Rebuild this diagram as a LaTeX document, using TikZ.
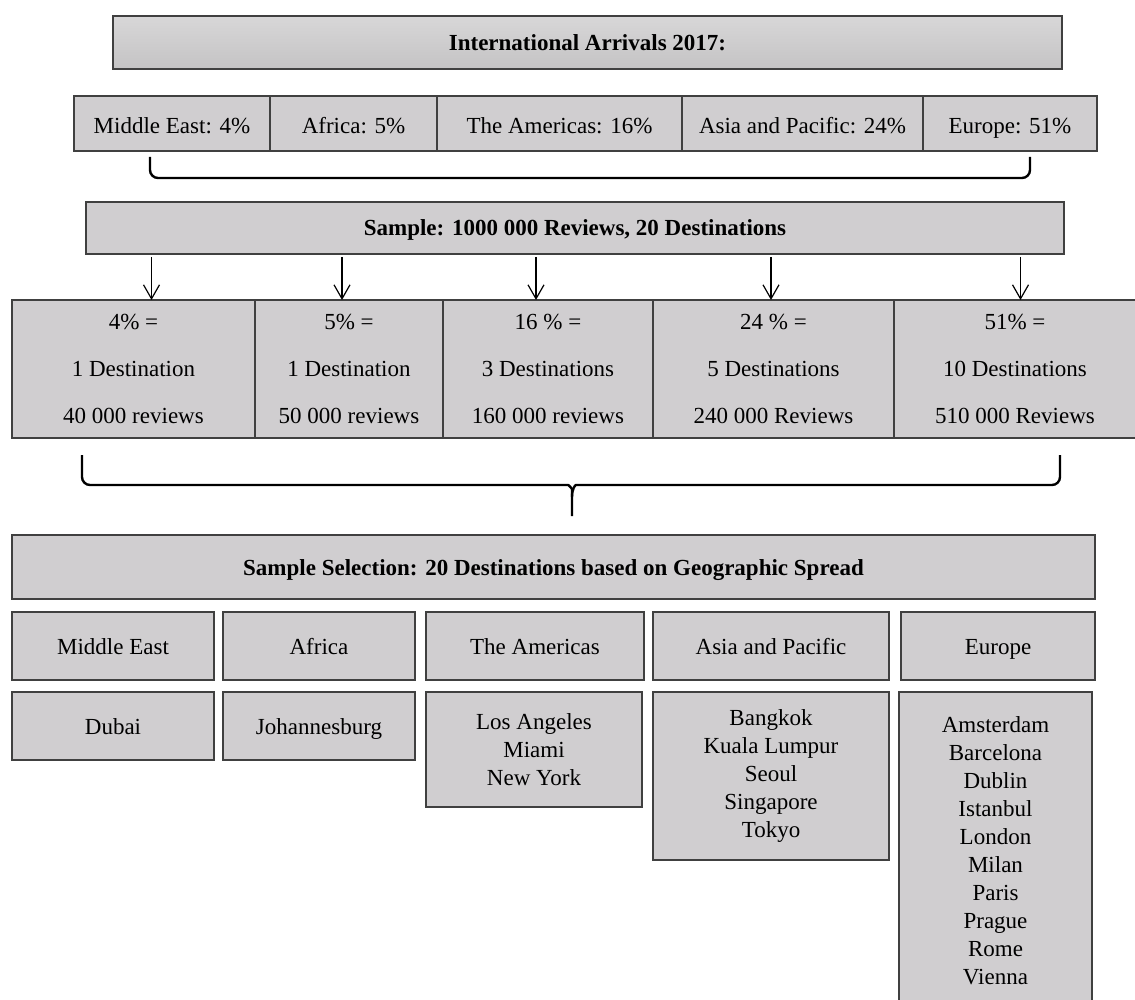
\documentclass[tikz,border=0pt]{standalone}
\usepackage{fontspec}
\setmainfont{Liberation Serif}
\usetikzlibrary{arrows.meta, positioning}
\definecolor{boxgray}{RGB}{208,206,208}
\definecolor{edgegray}{RGB}{64,64,64}
\definecolor{hdrtop}{RGB}{216,215,216}
\definecolor{hdrbot}{RGB}{196,195,196}

\begin{document}
\begin{tikzpicture}[
  x=0.5pt, y=-0.5pt,
  box/.style={draw=edgegray, fill=boxgray, line width=0.7pt, outer sep=0pt, inner sep=2pt, align=center, font=\fontsize{11.5}{14}\selectfont},
  oneline/.style={text height=8pt, text depth=0pt},
  hdr/.style={box, oneline, font=\fontsize{11.5}{14}\selectfont\bfseries},
  share/.style={box, text height=10.5pt, text depth=0pt, minimum height=27.5pt},
  quota/.style={box, minimum height=69pt},
  region/.style={box, oneline, minimum height=34pt},
  city/.style={box},
  arr/.style={-{Straight Barb[length=7pt, width=8pt]}, line width=0.6pt, shorten <=1.5pt},
  brace/.style={line width=1.2pt, rounded corners=4pt}
]
  \useasboundingbox (0,0) rectangle (1135,1000);

  \node[hdr, top color=hdrtop, bottom color=hdrbot, minimum width=474.5pt, minimum height=26.5pt] (arrivals) at (587.5,42.5) {International Arrivals 2017:};

  \node[share, minimum width=98pt, anchor=west] (me1) at (74,123.5) {Middle East: 4\%};
  \node[share, minimum width=83.5pt, right=0pt of me1] (af1) {Africa: 5\%};
  \node[share, minimum width=122.5pt, right=0pt of af1] (am1) {The Americas: 16\%};
  \node[share, minimum width=120.5pt, right=0pt of am1] (as1) {Asia and Pacific: 24\%};
  \node[share, minimum width=87pt, right=0pt of as1] (eu1) {Europe: 51\%};

  \coordinate (b1l) at (150,157);
  \coordinate (b1r) at (1030,157);
  \draw[brace] (b1l) -- ++(0,21) -| (b1r);

  \node[hdr, minimum width=489pt, minimum height=26pt] (sample) at (575,228) {Sample: 1000 000 Reviews, 20 Destinations};

  \node[quota, minimum width=121.5pt, anchor=west] (q1) at (12,369) {4\% =\\[9.5pt] 1 Destination\\[9.5pt] 40 000 reviews};
  \node[quota, minimum width=94pt, right=0pt of q1] (q2) {5\% =\\[9.5pt] 1 Destination\\[9.5pt] 50 000 reviews};
  \node[quota, minimum width=105pt, right=0pt of q2] (q3) {16 \% =\\[9.5pt] 3 Destinations\\[9.5pt] 160 000 reviews};
  \node[quota, minimum width=120.5pt, right=0pt of q3] (q4) {24 \% =\\[9.5pt] 5 Destinations\\[9.5pt] 240 000 Reviews};
  \node[quota, minimum width=121pt, right=0pt of q4] (q5) {51\% =\\[9.5pt] 10 Destinations\\[9.5pt] 510 000 Reviews};

  \foreach \q/\dx in {q1/9pt, q2/-3.5pt, q3/-6pt, q4/-1.25pt, q5/2.75pt} {
    \coordinate (tip) at ([xshift=\dx]\q.north);
    \draw[arr] (tip |- sample.south) -- (tip);
  }

  \coordinate (b2l) at (82,455);
  \coordinate (b2r) at (1060,455);
  \coordinate (b2m) at (572,516);
  \draw[brace] (b2l) -- ++(0,30) -- (560,485) .. controls (569,485) and (572,489) .. (572,497) -- (b2m);
  \draw[brace] (b2r) -- ++(0,30) -- (584,485) .. controls (575,485) and (572,489) .. (572,497);

  \node[hdr, minimum width=541.5pt, minimum height=32pt] (select) at (553.5,567) {Sample Selection: 20 Destinations based on Geographic Spread};

  \node[region, minimum width=101pt, anchor=west] (me) at (12,646) {Middle East};
  \node[region, minimum width=96pt, right=4.5pt of me] (af) {Africa};
  \node[region, minimum width=109pt, right=5.5pt of af] (am) {The Americas};
  \node[region, minimum width=118pt, right=4.5pt of am] (as) {Asia and Pacific};
  \node[region, minimum width=97pt, right=6pt of as] (eu) {Europe};

  \node[city, oneline, minimum width=101pt, minimum height=34pt, below=6pt of me] (mecity) {Dubai};
  \node[city, oneline, minimum width=96pt, minimum height=34pt, below=6pt of af] (afcity) {Johannesburg};
  \node[city, minimum width=108pt, minimum height=57.5pt, below=6pt of am, xshift=-0.5pt] (amcity) {Los Angeles\\Miami\\New York};
  \node[city, minimum width=118pt, minimum height=84pt, below=6pt of as] (ascity) {Bangkok\\Kuala Lumpur\\Seoul\\Singapore\\Tokyo};
  \node[city, minimum width=96.5pt, minimum height=159pt, below=6pt of eu, xshift=-1.25pt] (eucity) {Amsterdam\\Barcelona\\Dublin\\Istanbul\\London\\Milan\\Paris\\Prague\\Rome\\Vienna};
\end{tikzpicture}
\end{document}
